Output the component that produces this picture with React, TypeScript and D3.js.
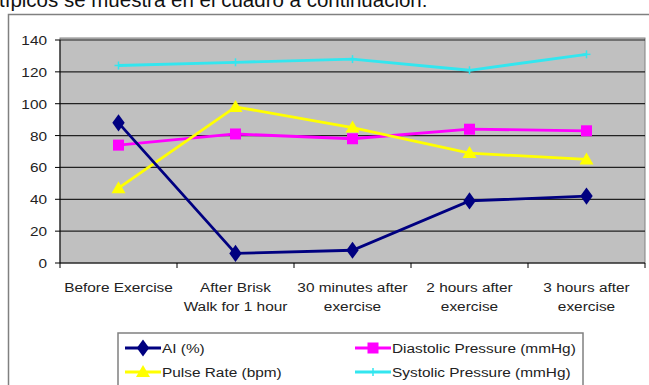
import React from "react";
import * as d3 from "d3";

const categories: string[][] = [
  ["Before Exercise"],
  ["After Brisk", "Walk for 1 hour"],
  ["30 minutes after", "exercise"],
  ["2 hours after", "exercise"],
  ["3 hours after", "exercise"],
];
const aiValues = [88, 6, 8, 39, 42];
const diastolicValues = [74, 81, 78, 84, 83];
const pulseValues = [47, 98, 85, 69, 65];
const systolicValues = [124, 126, 128, 121, 131];
const yTicks = [0, 20, 40, 60, 80, 100, 120, 140];

const seriesNames = ["AI (%)", "Diastolic Pressure (mmHg)", "Pulse Rate (bpm)", "Systolic Pressure (mmHg)"];

const FONT = "'Liberation Sans', Arial, sans-serif";
const FS = 13.5;
const SX = 1.14;

type Marker = "diamond" | "square" | "triangle" | "star";

function MarkerShape({ kind, x, y, color }: { kind: Marker; x: number; y: number; color: string }) {
  if (kind === "diamond") {
    const p = d3.symbol(d3.symbolDiamond, 85)();
    return <path d={p || ""} transform={`translate(${x},${y}) scale(1.25,1)`} fill={color} />;
  }
  if (kind === "square") {
    return <rect x={x - 5.5} y={y - 5.5} width={11} height={11} fill={color} />;
  }
  if (kind === "triangle") {
    return <path d={`M${x},${y - 7}L${x + 7},${y + 5}L${x - 7},${y + 5}Z`} fill={color} />;
  }
  return (
    <g stroke={color} strokeWidth={1.5}>
      <line x1={x - 4} x2={x + 4} y1={y} y2={y} />
      <line x1={x} x2={x} y1={y - 4} y2={y + 4} />
    </g>
  );
}

// Text drawn slightly widened, anchored at (x, y)
function WideText({
  x,
  y,
  anchor = "start",
  children,
}: {
  x: number;
  y: number;
  anchor?: "start" | "middle" | "end";
  children: React.ReactNode;
}) {
  return (
    <text transform={`translate(${x},${y}) scale(${SX},1)`} fontSize={FS} textAnchor={anchor} fill="#222">
      {children}
    </text>
  );
}

export default function App() {
  const W = 649;
  const H = 385;
  const left = 60;
  const right = 645;
  const top = 40;
  const bottom = 263;

  const x = d3.scaleBand<number>().domain(d3.range(categories.length)).range([left, right]);
  const y = d3.scaleLinear().domain([0, 140]).range([bottom, top]);
  const cx = (i: number) => (x(i) as number) + x.bandwidth() / 2;
  const line = d3
    .line<number>()
    .x((_, i) => cx(i))
    .y((v) => y(v));

  const series: { values: number[]; color: string; marker: Marker }[] = [
    { values: systolicValues, color: "#33e6ef", marker: "star" },
    { values: diastolicValues, color: "#ff00ff", marker: "square" },
    { values: pulseValues, color: "#ffff00", marker: "triangle" },
    { values: aiValues, color: "#000080", marker: "diamond" },
  ];

  const legend: { name: string; color: string; marker: Marker; lx: number; ly: number }[] = [
    { name: seriesNames[0], color: "#000080", marker: "diamond", lx: 125, ly: 348 },
    { name: seriesNames[1], color: "#ff00ff", marker: "square", lx: 355, ly: 348 },
    { name: seriesNames[2], color: "#ffff00", marker: "triangle", lx: 125, ly: 372 },
    { name: seriesNames[3], color: "#33e6ef", marker: "star", lx: 355, ly: 372 },
  ];

  return (
    <svg
      width={W}
      height={H}
      style={{ position: "absolute", left: 0, top: 0, background: "#fff" }}
      fontFamily={FONT}
    >
      <text x={-1} y={7} fontSize={20.5} fill="#111">
        típicos se muestra en el cuadro a continuación:
      </text>

      {/* chart frame */}
      <rect x={8.5} y={14.5} width={660} height={400} fill="#fff" stroke="#808080" strokeWidth={1.5} />

      {/* plot area */}
      <rect x={left} y={top - 2} width={right - left} height={bottom - top + 2} fill="#c0c0c0" stroke="#808080" strokeWidth={1} />
      {yTicks
        .filter((t) => t > 0)
        .map((t) => (
          <line key={t} x1={left} x2={right} y1={y(t)} y2={y(t)} stroke="#222" strokeWidth={1.2} />
        ))}

      {/* axes */}
      <line x1={left} x2={left} y1={top} y2={bottom} stroke="#000" />
      <line x1={left} x2={right} y1={bottom} y2={bottom} stroke="#000" />
      {yTicks.map((t) => (
        <g key={t}>
          <line x1={left - 5} x2={left} y1={y(t)} y2={y(t)} stroke="#000" />
          <WideText x={47} y={y(t) + 5} anchor="end">
            {t}
          </WideText>
        </g>
      ))}
      {d3.range(categories.length + 1).map((i) => {
        const xx = i < categories.length ? (x(i) as number) : right;
        return <line key={i} x1={xx} x2={xx} y1={bottom} y2={bottom + 5} stroke="#000" />;
      })}
      {categories.map((lines, i) =>
        lines.map((l, j) => (
          <WideText key={`${i}-${j}`} x={cx(i)} y={292 + j * 19} anchor="middle">
            {l}
          </WideText>
        ))
      )}

      {/* series */}
      {series.map((s, k) => (
        <g key={k}>
          <path d={line(s.values) || ""} fill="none" stroke={s.color} strokeWidth={2.8} />
          {s.values.map((v, i) => (
            <MarkerShape key={i} kind={s.marker} x={cx(i)} y={y(v)} color={s.color} />
          ))}
        </g>
      ))}

      {/* legend */}
      <rect x={118} y={333} width={465} height={80} fill="#fff" stroke="#808080" strokeWidth={1.5} />
      {legend.map((l, i) => (
        <g key={i}>
          <line x1={l.lx} x2={l.lx + 36} y1={l.ly} y2={l.ly} stroke={l.color} strokeWidth={2.8} />
          <MarkerShape kind={l.marker} x={l.lx + 18} y={l.ly} color={l.color} />
          <WideText x={l.lx + 37} y={l.ly + 5}>
            {l.name}
          </WideText>
        </g>
      ))}
    </svg>
  );
}
